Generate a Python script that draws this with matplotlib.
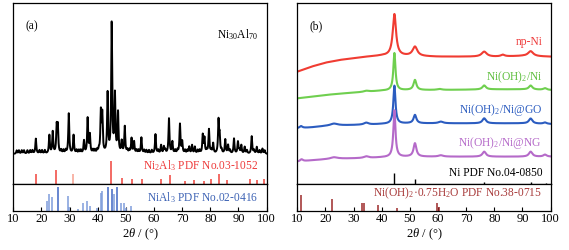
import numpy as np
import matplotlib
matplotlib.use("Agg")
import matplotlib.pyplot as plt

plt.rcParams['font.family'] = ['Liberation Serif', 'DejaVu Serif']
plt.rcParams['mathtext.fontset'] = 'custom'
plt.rcParams['mathtext.rm'] = 'Liberation Serif'
plt.rcParams['mathtext.it'] = 'Liberation Serif:italic'

## panel (a) Ni30Al70 pattern : peak position (2theta), height above baseline
a_pos = [18.0, 22.8, 24.0, 25.4, 25.8, 29.7, 31.4, 35.1, 36.4, 37.2, 41.1, 41.6, 43.5,
         44.95, 46.1, 47.2, 48.5, 49.6, 52.0, 52.9, 55.5, 60.5, 62.5, 63.5, 65.3, 66.5,
         69.2, 70.0, 72.5, 73.5, 74.5, 77.3, 77.9, 79.5, 81.0, 82.9, 83.3, 85.3, 86.3,
         88.4, 89.8, 91.0, 92.2, 94.7, 96.5, 98.5]
a_hgt = [45, 55, 65, 78, 78, 120, 55, 38, 105, 55, 120, 112, 178,
         388, 173, 120, 35, 80, 45, 35, 48, 58, 25, 20, 105, 35,
         88, 35, 20, 25, 20, 55, 45, 72, 30, 97, 50, 42, 25,
         45, 35, 25, 20, 52, 20, 15]
# small bumps of the noisy background
a_minor = [11.2, 12.0, 13.0, 13.8, 15.0, 16.0, 16.8, 19.3, 20.2, 21.2, 27.0, 27.8, 28.6,
           32.5, 33.3, 34.0, 38.3, 39.0, 39.8, 40.4, 50.5, 51.2, 53.8, 54.5, 56.5, 57.3,
           58.2, 59.2, 61.5, 64.0, 67.5, 68.3, 71.0, 71.8, 75.5, 76.2, 78.7, 80.3, 84.0,
           87.0, 90.3, 93.0, 95.5, 97.5, 99.3]
a_base = 90

## Ni2Al3 PDF 03-1052 sticks
ni2al3_pos = [17.9, 25.2, 31.1, 44.8, 48.7, 52.2, 55.6, 62.5, 65.5, 71.1, 74.3, 77.9,
              80.3, 82.9, 85.8, 94.1, 96.7, 99.2]
ni2al3_h = [30, 42, 30, 68, 17, 14, 14, 14, 27, 10, 12, 10, 15, 30, 12, 15, 12, 15]

## NiAl3 PDF 02-0416 sticks
nial3_pos = [21.8, 22.7, 23.9, 25.7, 29.5, 29.9, 32.9, 34.9, 36.3, 37.1, 39.8, 41.0, 41.4,
             43.5, 45.2, 45.9, 46.8, 48.3, 49.3, 50.0, 51.7]
nial3_h = [30, 50, 40, 72, 44, 12, 4, 22, 30, 15, 9, 52, 59, 72, 65, 50, 72, 22, 22, 7, 15]

## panel (b) curves: background points + peaks (pos, height, half width)
bg_x = [10, 15, 20, 25, 30, 35, 40, 50, 60, 70, 80, 90, 100]
npni_bg = [337, 352, 364, 372, 377, 382, 385, 384, 382, 382, 382, 384, 382]
npni_pk = [(44.5, 125, 0.7), (51.8, 28, 1.0), (76.4, 15, 1.1), (83.0, 5, 0.8), (92.9, 15, 1.1)]
green_bg = [257, 262, 267, 271, 274, 277, 280, 282, 282, 283, 284, 284, 282]
green_pk = [(34.5, 3, 1.0), (44.5, 112, 0.45), (51.8, 30, 0.6), (60.5, 3, 1.0),
            (76.4, 12, 0.75), (92.9, 12, 0.75), (98.0, 5, 0.7)]
blue_bg = [167, 170, 174, 176, 177, 178, 180, 182, 182, 182, 182, 182, 180]
blue_pk = [(11.3, 6, 0.6), (23.0, 6, 1.5), (34.5, 6, 1.0), (44.5, 114, 0.45), (51.8, 25, 0.6),
           (61.0, 5, 1.0), (76.4, 15, 0.75), (92.9, 15, 0.75), (98.0, 4, 0.7)]
purple_bg = [67, 71, 74, 76, 77, 78, 80, 82, 82, 82, 82, 82, 82]
purple_pk = [(11.5, 6, 0.6), (23.0, 5, 1.5), (34.5, 5, 1.0), (44.5, 140, 0.45), (51.8, 40, 0.6),
             (61.0, 4, 1.0), (76.4, 15, 0.75), (92.9, 15, 0.75), (98.0, 6, 0.7)]

## Ni PDF 04-0850 sticks
ni_pos = [44.5, 51.8, 76.4, 92.9, 98.4]
ni_h = [34, 14, 7, 7, 4]

## Ni(OH)2.0.75H2O PDF 38-0715 sticks
nioh_pos = [11.2, 22.5, 33.0, 33.6, 38.5, 45.5, 59.6, 60.2]
nioh_h = [47, 34, 22, 22, 17, 7, 22, 12]

fs = 8.3  # label font size

x = np.linspace(10, 100, 4501)

def lor(c, h, w):
    return h / (1 + ((x - c) / w) ** 2)

ya = np.full_like(x, a_base, dtype=float)
for c, h in zip(a_pos, a_hgt):
    ya += lor(c, h, 0.2)
for c in a_minor:
    ya += lor(c, 10, 0.2)

def curve(bg, pk):
    y = np.interp(x, bg_x, bg).astype(float)
    for c, h, w in pk:
        y += lor(c, h, w)
    return y

fig = plt.figure(figsize=(5.69, 2.5), dpi=100)

def make_axes(left):
    top = fig.add_axes([left, 0.264, 0.4452, 0.7253])
    bot = fig.add_axes([left, 0.1573, 0.4452, 0.1067])
    for ax in (top, bot):
        ax.set_xlim(10, 100)
        for s in ax.spines.values():
            s.set_linewidth(0.9)
    top.set_ylim(0, 544)
    bot.set_ylim(0, 80)
    top.set_xticks([])
    top.set_yticks([])
    bot.set_yticks([])
    bot.set_xticks(range(10, 101, 10))
    bot.tick_params(axis='x', direction='in', length=3, width=0.8, labelsize=9, pad=2)
    bot.set_xlabel(r"$2\theta$ / (°)", fontsize=9, labelpad=1)
    return top, bot

# ---- panel (a)
ta, ba = make_axes(0.0234)
ta.plot(x, ya, color='black', lw=1.4)
ta.vlines(ni2al3_pos, 0, ni2al3_h,
          colors=['#f6a090' if p == 31.1 else '#f0433a' for p in ni2al3_pos], lw=1.1)
ba.vlines(nial3_pos, 0, nial3_h,
          colors=['#3f66c4' if h >= 60 else '#7f9ddb' for h in nial3_h], lw=1.1)
ta.text(14.5, 472, "(a)", fontsize=fs, va='center')
ta.text(97, 447, r"Ni$_\mathregular{30}$Al$_\mathregular{70}$", fontsize=fs, ha='right', va='center')
ta.text(97, 55, r"Ni$_\mathregular{2}$Al$_\mathregular{3}$ PDF No.03-1052", fontsize=fs,
        ha='right', va='center', color='#ee3b3b')
ba.text(97, 39, r"NiAl$_\mathregular{3}$ PDF No.02-0416", fontsize=fs,
        ha='right', va='center', color='#3f64b5')

# ---- panel (b)
tb, bb = make_axes(0.5225)
tb.plot(x, curve(npni_bg, npni_pk), color='#f03c32', lw=1.5)
tb.plot(x, curve(green_bg, green_pk), color='#6fcf4f', lw=1.5)
tb.plot(x, curve(blue_bg, blue_pk), color='#2b5cc0', lw=1.5)
tb.plot(x, curve(purple_bg, purple_pk), color='#b56ac9', lw=1.5)
tb.vlines(ni_pos, 0, ni_h, colors='black', lw=1.0)
bb.vlines(nioh_pos, 0, nioh_h, colors='#9c2a2a', lw=1.1)
tb.text(14.5, 472, "(b)", fontsize=fs, va='center')
tb.text(97, 427, "np-Ni", fontsize=fs, ha='right', va='center', color='#ee3b3b')
tb.text(97, 320, r"Ni(OH)$_\mathregular{2}$/Ni", fontsize=fs, ha='right', va='center', color='#5fbf3f')
tb.text(97, 222, r"Ni(OH)$_\mathregular{2}$/Ni@GO", fontsize=fs, ha='right', va='center', color='#2b5cc0')
tb.text(97, 122, r"Ni(OH)$_\mathregular{2}$/Ni@NG", fontsize=fs, ha='right', va='center', color='#b56ac9')
tb.text(97, 32, "Ni PDF No.04-0850", fontsize=fs, ha='right', va='center', color='black')
bb.text(97, 52, r"Ni(OH)$_\mathregular{2}$·0.75H$_\mathregular{2}$O PDF No.38-0715", fontsize=fs,
        ha='right', va='center', color='#a83a3a')

fig.savefig("out.png", dpi=100)
